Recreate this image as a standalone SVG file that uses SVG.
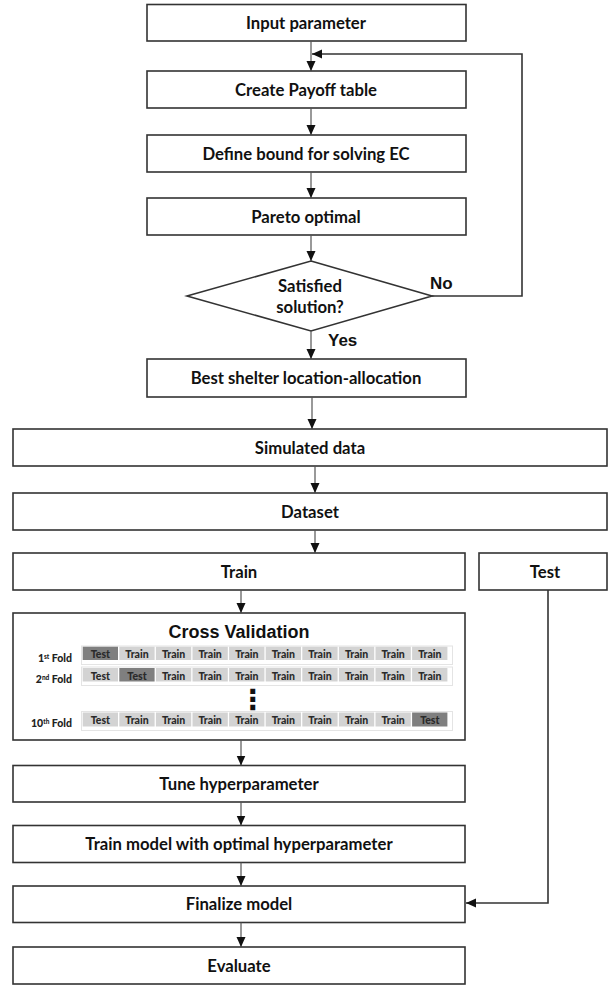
<svg xmlns="http://www.w3.org/2000/svg" width="608" height="985" viewBox="0 0 608 985">
<style>
.box{fill:#fff;stroke:#333;stroke-width:1.6}
.t{font-family:Lato,"Liberation Sans",sans-serif;font-weight:bold;font-size:16.7px;fill:#111;text-anchor:middle;dominant-baseline:central}
.a{font-family:"Liberation Sans",Arial,sans-serif;font-weight:bold;fill:#111}
.c{stroke:#555;stroke-width:1.2;fill:none}
.fb{stroke:#333;stroke-width:1.6;fill:none}
.lc{fill:#d3d3d3}
.dc{fill:#7f7f7f}
.ct{font-family:Lato,"Liberation Sans",sans-serif;font-weight:900;font-size:10.5px;fill:#2a2a2a;text-anchor:middle;dominant-baseline:central}
.fl{font-family:Lato,"Liberation Sans",sans-serif;font-weight:900;font-size:10.5px;fill:#222;text-anchor:end}
.rw{fill:none;stroke:#e4e4e4;stroke-width:1}
.dots{font-family:"DejaVu Sans",sans-serif;font-weight:bold;font-size:28px;fill:#111;text-anchor:middle;dominant-baseline:central}
</style>
<defs>
<marker id="ah" markerUnits="userSpaceOnUse" markerWidth="10" markerHeight="10" viewBox="0 0 10 10" refX="10" refY="5" orient="auto">
<path d="M0,0.5 L10,5 L0,9.5 z" fill="#111"/>
</marker>
</defs>

<g id="n-input"><rect class="box" x="147" y="4.5" width="319" height="36.5"/><text class="t" x="306" y="23">Input parameter</text></g>
<g id="n-payoff"><rect class="box" x="147" y="71" width="319" height="37"/><text class="t" x="306" y="89.5">Create Payoff table</text></g>
<g id="n-bound"><rect class="box" x="147" y="135" width="319" height="37"/><text class="t" x="306" y="153.5">Define bound for solving EC</text></g>
<g id="n-pareto"><rect class="box" x="147" y="198" width="319" height="37"/><text class="t" x="306" y="216.5">Pareto optimal</text></g>
<g id="n-decision"><polygon class="box" points="311,261 432,296 311,331 187,296"/><text class="t" x="310" y="286">Satisfied</text><text class="t" x="310" y="307">solution?</text></g>
<g id="n-best"><rect class="box" x="147" y="359" width="319" height="38"/><text class="t" x="306" y="378">Best shelter location-allocation</text></g>
<g id="n-sim"><rect class="box" x="13" y="429" width="594" height="37"/><text class="t" x="310" y="447.5">Simulated data</text></g>
<g id="n-dataset"><rect class="box" x="13" y="493" width="594" height="37"/><text class="t" x="310" y="511.5">Dataset</text></g>
<g id="n-train"><rect class="box" x="13" y="553" width="452" height="37"/><text class="t" x="239" y="571.5">Train</text></g>
<g id="n-test"><rect class="box" x="479" y="553" width="128" height="37"/><text class="t" x="545" y="571.5">Test</text></g>

<g id="n-cv">
<rect class="box" x="13" y="613" width="452" height="127"/>
<text class="a" x="239" y="638" font-size="18" text-anchor="middle">Cross Validation</text>
<rect class="rw" x="81.5" y="646" width="371" height="18.5"/>
<rect class="rw" x="81.5" y="667" width="371" height="18.5"/>
<rect class="rw" x="81.5" y="711.5" width="371" height="19"/>
<text class="fl" x="72" y="662">1<tspan font-size="6.5" dy="-3.5">st</tspan><tspan dy="3.5"> Fold</tspan></text>
<text class="fl" x="72" y="683">2<tspan font-size="6.5" dy="-3.5">nd</tspan><tspan dy="3.5"> Fold</tspan></text>
<text class="fl" x="72" y="727">10<tspan font-size="6.5" dy="-3.5">th</tspan><tspan dy="3.5"> Fold</tspan></text>
<g id="row1">
<rect class="dc" x="82.7" y="646.7" width="35.3" height="13.3"/><text class="ct" x="100.4" y="654">Test</text>
<rect class="lc" x="119.3" y="646.7" width="35.3" height="13.3"/><text class="ct" x="137" y="654">Train</text>
<rect class="lc" x="155.9" y="646.7" width="35.3" height="13.3"/><text class="ct" x="173.6" y="654">Train</text>
<rect class="lc" x="192.5" y="646.7" width="35.3" height="13.3"/><text class="ct" x="210.2" y="654">Train</text>
<rect class="lc" x="229.1" y="646.7" width="35.3" height="13.3"/><text class="ct" x="246.8" y="654">Train</text>
<rect class="lc" x="265.7" y="646.7" width="35.3" height="13.3"/><text class="ct" x="283.4" y="654">Train</text>
<rect class="lc" x="302.3" y="646.7" width="35.3" height="13.3"/><text class="ct" x="320" y="654">Train</text>
<rect class="lc" x="338.9" y="646.7" width="35.3" height="13.3"/><text class="ct" x="356.6" y="654">Train</text>
<rect class="lc" x="375.5" y="646.7" width="35.3" height="13.3"/><text class="ct" x="393.2" y="654">Train</text>
<rect class="lc" x="412.1" y="646.7" width="35.3" height="13.3"/><text class="ct" x="429.8" y="654">Train</text>
</g>
<g id="row2">
<rect class="lc" x="82.7" y="668" width="35.3" height="13.5"/><text class="ct" x="100.4" y="675.5">Test</text>
<rect class="dc" x="119.3" y="668" width="35.3" height="13.5"/><text class="ct" x="137" y="675.5">Test</text>
<rect class="lc" x="155.9" y="668" width="35.3" height="13.5"/><text class="ct" x="173.6" y="675.5">Train</text>
<rect class="lc" x="192.5" y="668" width="35.3" height="13.5"/><text class="ct" x="210.2" y="675.5">Train</text>
<rect class="lc" x="229.1" y="668" width="35.3" height="13.5"/><text class="ct" x="246.8" y="675.5">Train</text>
<rect class="lc" x="265.7" y="668" width="35.3" height="13.5"/><text class="ct" x="283.4" y="675.5">Train</text>
<rect class="lc" x="302.3" y="668" width="35.3" height="13.5"/><text class="ct" x="320" y="675.5">Train</text>
<rect class="lc" x="338.9" y="668" width="35.3" height="13.5"/><text class="ct" x="356.6" y="675.5">Train</text>
<rect class="lc" x="375.5" y="668" width="35.3" height="13.5"/><text class="ct" x="393.2" y="675.5">Train</text>
<rect class="lc" x="412.1" y="668" width="35.3" height="13.5"/><text class="ct" x="429.8" y="675.5">Train</text>
</g>
<text class="dots" x="252.5" y="699">⋮</text>
<g id="row10">
<rect class="lc" x="82.7" y="712.5" width="35.3" height="14"/><text class="ct" x="100.4" y="720">Test</text>
<rect class="lc" x="119.3" y="712.5" width="35.3" height="14"/><text class="ct" x="137" y="720">Train</text>
<rect class="lc" x="155.9" y="712.5" width="35.3" height="14"/><text class="ct" x="173.6" y="720">Train</text>
<rect class="lc" x="192.5" y="712.5" width="35.3" height="14"/><text class="ct" x="210.2" y="720">Train</text>
<rect class="lc" x="229.1" y="712.5" width="35.3" height="14"/><text class="ct" x="246.8" y="720">Train</text>
<rect class="lc" x="265.7" y="712.5" width="35.3" height="14"/><text class="ct" x="283.4" y="720">Train</text>
<rect class="lc" x="302.3" y="712.5" width="35.3" height="14"/><text class="ct" x="320" y="720">Train</text>
<rect class="lc" x="338.9" y="712.5" width="35.3" height="14"/><text class="ct" x="356.6" y="720">Train</text>
<rect class="lc" x="375.5" y="712.5" width="35.3" height="14"/><text class="ct" x="393.2" y="720">Train</text>
<rect class="dc" x="412.1" y="712.5" width="35.3" height="14"/><text class="ct" x="429.8" y="720">Test</text>
</g>
</g>

<g id="n-tune"><rect class="box" x="13" y="765.5" width="452" height="36.5"/><text class="t" x="239" y="784">Tune hyperparameter</text></g>
<g id="n-trainmodel"><rect class="box" x="13" y="825.5" width="452" height="37"/><text class="t" x="239" y="844">Train model with optimal hyperparameter</text></g>
<g id="n-final"><rect class="box" x="13" y="886" width="452" height="36.5"/><text class="t" x="239" y="904">Finalize model</text></g>
<g id="n-eval"><rect class="box" x="13" y="947" width="452" height="37"/><text class="t" x="239" y="965.5">Evaluate</text></g>

<g id="connectors">
<line class="c" x1="311" y1="41" x2="311" y2="71" marker-end="url(#ah)"/>
<line class="c" x1="311" y1="108" x2="311" y2="135" marker-end="url(#ah)"/>
<line class="c" x1="311" y1="172" x2="311" y2="198" marker-end="url(#ah)"/>
<line class="c" x1="311" y1="235" x2="311" y2="261" marker-end="url(#ah)"/>
<line class="c" x1="311" y1="331" x2="311" y2="359" marker-end="url(#ah)"/>
<line class="c" x1="312" y1="397" x2="312" y2="429" marker-end="url(#ah)"/>
<line class="c" x1="315" y1="466" x2="315" y2="493" marker-end="url(#ah)"/>
<line class="c" x1="315" y1="530" x2="315" y2="553" marker-end="url(#ah)"/>
<line class="c" x1="241" y1="590" x2="241" y2="613" marker-end="url(#ah)"/>
<line class="c" x1="241" y1="740" x2="241" y2="765.5" marker-end="url(#ah)"/>
<line class="c" x1="241" y1="802" x2="241" y2="825.5" marker-end="url(#ah)"/>
<line class="c" x1="241" y1="862.5" x2="241" y2="886" marker-end="url(#ah)"/>
<line class="c" x1="241" y1="922.5" x2="241" y2="947" marker-end="url(#ah)"/>
<polyline class="fb" points="432,296 522,296 522,54 312,54" marker-end="url(#ah)"/>
<polyline class="fb" points="548,590 548,903 466,903" marker-end="url(#ah)"/>
<text class="a" x="430" y="289" font-size="17">No</text>
<text class="a" x="328" y="346" font-size="17">Yes</text>
</g>
</svg>
